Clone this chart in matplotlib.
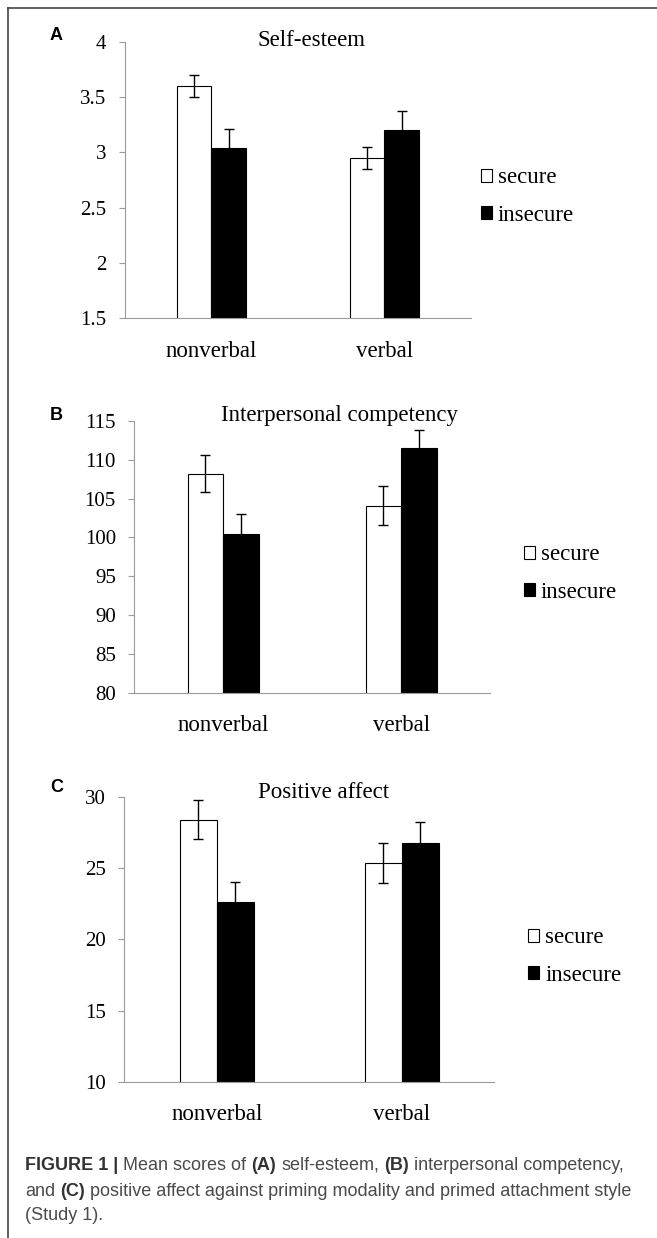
import matplotlib
matplotlib.use("Agg")
import matplotlib.pyplot as plt
import numpy as np
from matplotlib.lines import Line2D

# ---------------- data ----------------
categories = ["nonverbal", "verbal"]
series_names = ["secure", "insecure"]

a_title = "Self-esteem"
a_secure = [3.60, 2.95]
a_secure_err = [0.10, 0.10]
a_insecure = [3.04, 3.20]
a_insecure_err = [0.17, 0.17]
a_ticks = [1.5, 2, 2.5, 3, 3.5, 4]
a_ticklabels = ["1.5", "2", "2.5", "3", "3.5", "4"]

b_title = "Interpersonal competency"
b_secure = [108.2, 104.1]
b_secure_err = [2.4, 2.5]
b_insecure = [100.5, 111.5]
b_insecure_err = [2.5, 2.4]
b_ticks = [80, 85, 90, 95, 100, 105, 110, 115]

c_title = "Positive affect"
c_secure = [28.4, 25.35]
c_secure_err = [1.4, 1.4]
c_insecure = [22.6, 26.75]
c_insecure_err = [1.4, 1.45]
c_ticks = [10, 15, 20, 25, 30]

caption_lines = [
    [("FIGURE 1 |", True), ("Mean scores of", False), ("(A)", True), ("self-esteem,", False),
     ("(B)", True), ("interpersonal competency,", False)],
    [("and", False), ("(C)", True), ("positive affect against priming modality and primed attachment style", False)],
    [("(Study 1).", False)],
]

# ---------------- layout ----------------
W, H = 657, 1238
fig = plt.figure(figsize=(W / 100, H / 100), dpi=100)
SERIF = "Liberation Serif"
SANS = "Liberation Sans"
FS = 16.5
TICKFS = 15
GRID = "#9a9a9a"


def fx(px):
    return px / W


def fy(py):
    return 1 - py / H


panels = [
    dict(box=(125, 470.7, 41.7, 318.3), title=a_title, sec=a_secure, sec_e=a_secure_err,
         ins=a_insecure, ins_e=a_insecure_err, ticks=a_ticks, tl=a_ticklabels,
         title_xy=(311.3, 40), letter="A", letter_xy=(50, 35), leg_xy=(480.7, 196.7)),
    dict(box=(134.3, 490, 421, 692.7), title=b_title, sec=b_secure, sec_e=b_secure_err,
         ins=b_insecure, ins_e=b_insecure_err, ticks=b_ticks, tl=[str(t) for t in b_ticks],
         title_xy=(339.8, 415.7), letter="B", letter_xy=(50, 416), leg_xy=(523.7, 573.5)),
    dict(box=(124.3, 494.3, 796.7, 1082), title=c_title, sec=c_secure, sec_e=c_secure_err,
         ins=c_insecure, ins_e=c_insecure_err, ticks=c_ticks, tl=[str(t) for t in c_ticks],
         title_xy=(324, 792), letter="C", letter_xy=(50, 788), leg_xy=(527.9, 956.7)),
]

x = np.arange(len(categories))
bw = 0.2
for p in panels:
    l, r, t, b = p["box"]
    ax = fig.add_axes([fx(l), fy(b), fx(r) - fx(l), fy(t) - fy(b)])
    ekw = dict(ecolor="black", elinewidth=1.0, capsize=3.3, capthick=1.0)
    b1 = ax.bar(x - bw / 2, p["sec"], bw, color="white", edgecolor="black", linewidth=0.8,
                yerr=p["sec_e"], error_kw=ekw, label=series_names[0], zorder=2)
    b2 = ax.bar(x + bw / 2, p["ins"], bw, color="black", edgecolor="black", linewidth=0.8,
                yerr=p["ins_e"], error_kw=ekw, label=series_names[1], zorder=2)
    ax.set_xlim(-0.5, 1.5)
    ax.set_ylim(p["ticks"][0], p["ticks"][-1])
    ax.set_yticks(p["ticks"])
    ax.set_yticklabels(p["tl"], fontfamily=SERIF, fontsize=TICKFS)
    ax.set_xticks(x)
    ax.set_xticklabels(categories, fontfamily=SERIF, fontsize=FS)
    ax.tick_params(axis="x", length=0, pad=16)
    ax.tick_params(axis="y", length=4.3, width=0.8, color=GRID, pad=9)
    for s in ["top", "right"]:
        ax.spines[s].set_visible(False)
    for s in ["left", "bottom"]:
        ax.spines[s].set_color(GRID)
        ax.spines[s].set_linewidth(0.8)
    ax.spines["bottom"].set_zorder(3)
    ax.patch.set_alpha(0)
    fig.text(fx(p["title_xy"][0]), fy(p["title_xy"][1]), p["title"], ha="center", va="center",
             fontfamily=SERIF, fontsize=FS)
    fig.text(fx(p["letter_xy"][0]), fy(p["letter_xy"][1]), p["letter"], ha="left", va="center",
             fontfamily=SANS, fontweight="bold", fontsize=13)
    ax.legend(handles=[b1, b2], labels=series_names, loc="center left",
              bbox_to_anchor=(fx(p["leg_xy"][0]), fy(p["leg_xy"][1])), bbox_transform=fig.transFigure,
              frameon=False, borderpad=0, borderaxespad=0, handlelength=0.5, handleheight=0.5,
              handletextpad=0.25, labelspacing=0.72, prop=dict(family=SERIF, size=FS))

# figure frame (left and top rules)
fig.add_artist(Line2D([fx(8), fx(8)], [fy(8), 0], color="#444444", lw=1.2))
fig.add_artist(Line2D([fx(8), 1], [fy(8), fy(8)], color="#444444", lw=1.2))

# caption
renderer = fig.canvas.get_renderer()
CAPFS = 13
probe1 = fig.text(0, 0, "a a", fontfamily=SANS, fontsize=CAPFS)
probe2 = fig.text(0, 0, "aa", fontfamily=SANS, fontsize=CAPFS)
space_px = probe1.get_window_extent(renderer).width - probe2.get_window_extent(renderer).width
probe1.remove()
probe2.remove()
line_y = [1165, 1191.7, 1215.7]
for chunks, yy in zip(caption_lines, line_y):
    cur = 25.0
    for txt, bold in chunks:
        t = fig.text(fx(cur), fy(yy), txt, ha="left", va="center", fontfamily=SANS,
                     fontsize=CAPFS, fontweight="bold" if bold else "normal",
                     color="#333333" if bold else "#4a4a4a")
        ext = t.get_window_extent(renderer)
        cur = ext.x1 + space_px

fig.savefig("out.png", dpi=100)
